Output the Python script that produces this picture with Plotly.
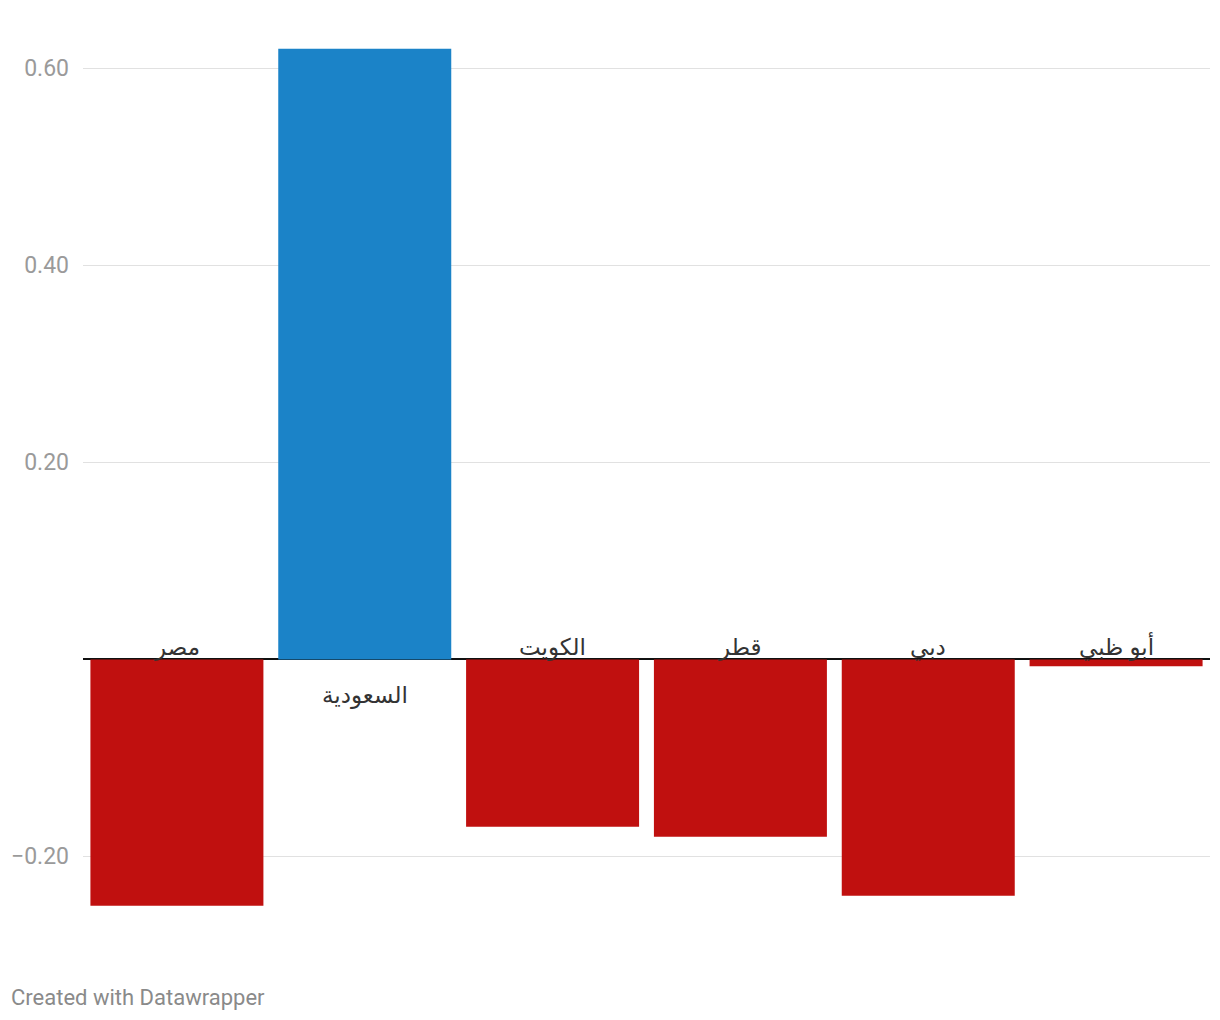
import plotly.graph_objects as go

categories = ["مصر", "السعودية", "الكويت", "قطر", "دبي", "أبو ظبي"]
values = [-0.25, 0.62, -0.17, -0.18, -0.24, -0.007]
tick_vals = [-0.2, 0.2, 0.4, 0.6]
tick_text = ["−0.20", "0.20", "0.40", "0.60"]

POS = "#1b83c8"
NEG = "#c0100f"
colors = [POS if v >= 0 else NEG for v in values]

fig = go.Figure(go.Bar(x=categories, y=values, marker=dict(color=colors, line=dict(width=0)),
                       hoverinfo="x+y"))

LABEL_FONT = dict(family="Noto Sans, DejaVu Sans", size=23, color="#333333")
for c, v in zip(categories, values):
    if v < 0:
        fig.add_annotation(x=c, y=0, text=c, showarrow=False, yanchor="bottom", yshift=-5,
                           font=LABEL_FONT)
    else:
        fig.add_annotation(x=c, y=0, text=c, showarrow=False, yanchor="top", yshift=-17,
                           font=LABEL_FONT)

fig.add_annotation(xref="paper", yref="paper", x=-74/1127, y=0, xanchor="left", yanchor="middle",
                   yshift=-82, text="Created with Datawrapper", showarrow=False,
                   font=dict(family="Roboto", size=22, color="#8a8a8a"))

fig.update_layout(
    width=1220, height=1020,
    margin=dict(l=75, r=18, t=21, b=113, autoexpand=False),
    paper_bgcolor="white", plot_bgcolor="white",
    bargap=0.079,
    showlegend=False,
    font=dict(family="Roboto"),
    xaxis=dict(showticklabels=False, showgrid=False, zeroline=False, showline=False, ticks="",
               automargin=False),
    yaxis=dict(range=[-0.2595, 0.64], tickvals=tick_vals, ticktext=tick_text,
               showgrid=True, gridcolor="#e1e1e1", gridwidth=1,
               zeroline=True, zerolinecolor="#111111", zerolinewidth=2,
               showline=False, ticks="", ticklabelstandoff=13, automargin=False,
               tickfont=dict(family="Roboto", size=23, color="#9a9a9a")),
)

fig.write_html("out.html")
